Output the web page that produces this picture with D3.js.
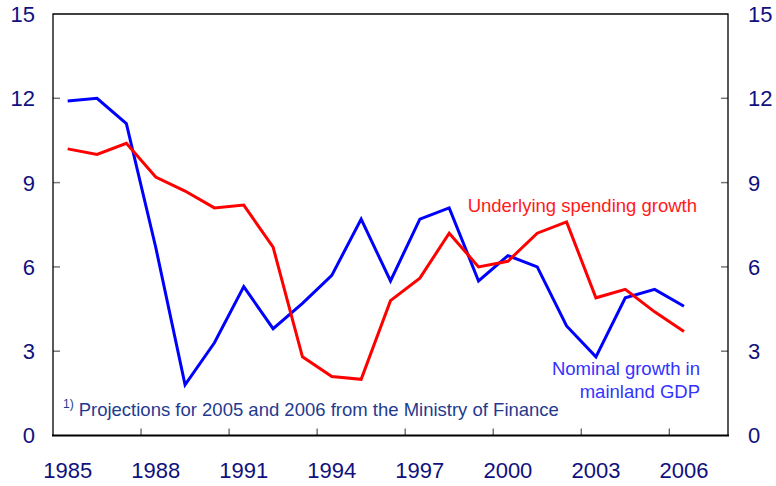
<!DOCTYPE html>
<html><head><meta charset="utf-8">
<script src="https://cdn.jsdelivr.net/npm/d3@7"></script>
<style>body{margin:0;background:#fff}svg{display:block;font-family:"Liberation Sans",Arial,sans-serif}</style>
</head><body><svg id="c" width="776" height="486"></svg>
<script>
const years = d3.range(1985, 2007);
const nominalGDP = [11.9,12.0,11.1,6.7,1.8,3.3,5.3,3.8,4.7,5.7,7.7,5.5,7.7,8.1,5.5,6.4,6.0,3.9,2.8,4.9,5.2,4.6];
const spending = [10.2,10.0,10.4,9.2,8.7,8.1,8.2,6.7,2.8,2.1,2.0,4.8,5.6,7.2,6.0,6.2,7.2,7.6,4.9,5.2,4.4,3.7];
const yTicks = [0,3,6,9,12,15];
const xTicks = [1985,1988,1991,1994,1997,2000,2003,2006];

const svg = d3.select("#c");
const L=53, R=728, T=14, B=435.5;
const x = d3.scaleLinear().domain([1985,2008]).range([L,R]);
const y = d3.scaleLinear().domain([0,15]).range([B,T]);
const navy = "#10107e";

// ticks
svg.append("g").selectAll("line").data(yTicks.slice(1,5)).join("line")
  .attr("x1",L).attr("x2",L+7).attr("y1",d=>y(d)).attr("y2",d=>y(d)).attr("stroke","#777").attr("stroke-width",1.5);
svg.append("g").selectAll("line").data(yTicks.slice(1,5)).join("line")
  .attr("x1",R-7).attr("x2",R).attr("y1",d=>y(d)).attr("y2",d=>y(d)).attr("stroke","#777").attr("stroke-width",1.5);
svg.append("g").selectAll("line").data(xTicks.slice(1)).join("line")
  .attr("x1",d=>x(d)).attr("x2",d=>x(d)).attr("y1",B).attr("y2",B-7).attr("stroke","#555").attr("stroke-width",1.2);

// frame
svg.append("path").attr("d",`M${L},${B}V${T}H${R}V${B}`).attr("fill","none").attr("stroke","#000").attr("stroke-width",1.3);
svg.append("line").attr("x1",L-1).attr("x2",R+1).attr("y1",B).attr("y2",B).attr("stroke","#000").attr("stroke-width",2.2);

// y labels
svg.append("g").selectAll("text").data(yTicks).join("text")
  .attr("x",35).attr("y",d=>y(d)).attr("dy","0.36em").attr("text-anchor","end")
  .attr("font-size",22).attr("fill",navy).text(d=>d);
svg.append("g").selectAll("text").data(yTicks).join("text")
  .attr("x",748).attr("y",d=>y(d)).attr("dy","0.36em").attr("text-anchor","start")
  .attr("font-size",22).attr("fill",navy).text(d=>d);
// x labels
svg.append("g").selectAll("text").data(xTicks).join("text")
  .attr("x",d=>x(d+0.5)).attr("y",470).attr("dy","0.36em").attr("text-anchor","middle")
  .attr("font-size",22).attr("fill",navy).text(d=>d);

// lines
const line = vals => d3.line().x((d,i)=>x(years[i]+0.5)).y(d=>y(d))(vals);
svg.append("path").attr("d",line(nominalGDP)).attr("fill","none").attr("stroke","#0000ff").attr("stroke-width",3).attr("stroke-linejoin","miter");
svg.append("path").attr("d",line(spending)).attr("fill","none").attr("stroke","#ff0000").attr("stroke-width",3).attr("stroke-linejoin","miter");

// labels
svg.append("text").attr("x",697).attr("y",205).attr("dy","0.36em").attr("text-anchor","end")
  .attr("font-size",18.5).attr("fill","#ff1a1a").text("Underlying spending growth");
svg.append("text").attr("x",700).attr("y",368).attr("dy","0.36em").attr("text-anchor","end")
  .attr("font-size",18.5).attr("fill","#3333ff").text("Nominal growth in");
svg.append("text").attr("x",700).attr("y",391).attr("dy","0.36em").attr("text-anchor","end")
  .attr("font-size",18.5).attr("fill","#3333ff").text("mainland GDP");

// footnote
const fn = svg.append("text").attr("x",63).attr("y",413).attr("dy","0.36em").attr("fill","#1f3b8f").attr("font-size",18.5);
fn.append("tspan").attr("font-size",12).attr("dy","-0.4em").text("1)");
fn.append("tspan").attr("dx",5).attr("dy","0.4em").attr("font-size",18.5).text("Projections for 2005 and 2006 from the Ministry of Finance");
</script></body></html>
